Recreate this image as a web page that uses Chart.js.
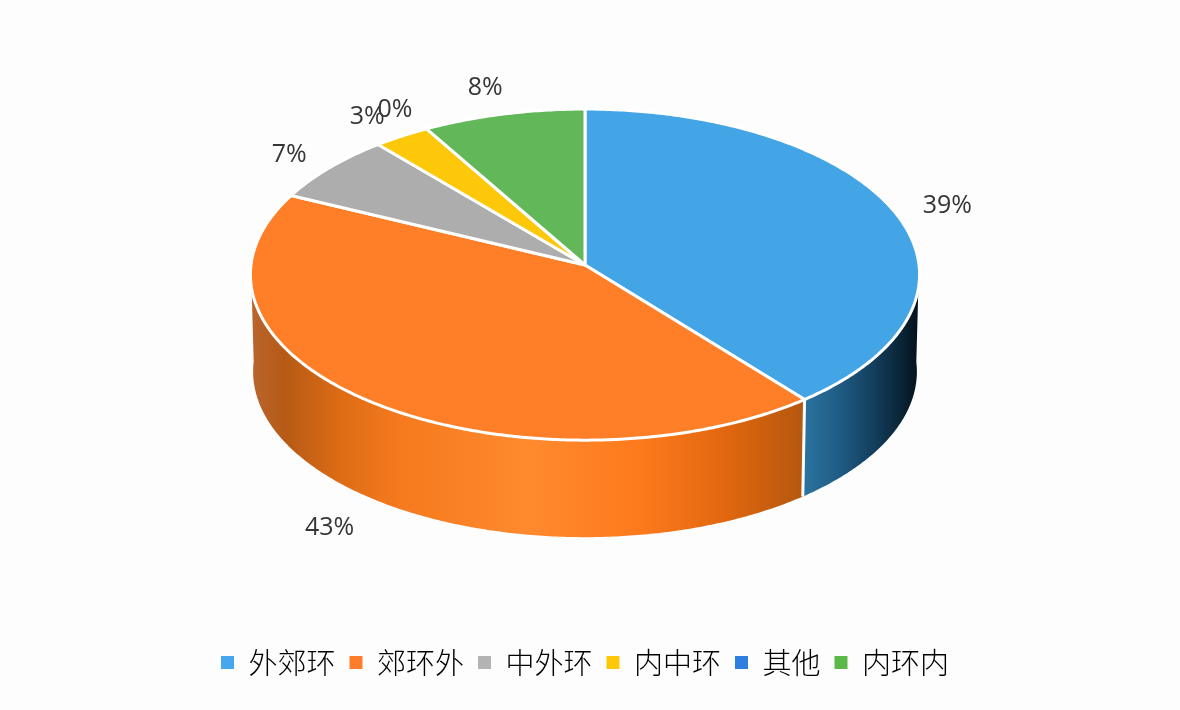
<!DOCTYPE html>
<html>
<head>
<meta charset="utf-8">
<title>3D pie</title>
<script src="https://cdn.jsdelivr.net/npm/chart.js@4"></script>
<style>
  html, body { margin: 0; padding: 0; background: #fdfdfe; }
  #wrap { width: 1180px; height: 710px; }
</style>
</head>
<body>
<div id="wrap"><canvas id="pie3d" width="1180" height="710"></canvas></div>
<script>
"use strict"

const categories = ["外郊环", "郊环外", "中外环", "内中环", "其他", "内环内"];
const shares = [39.2, 42.9, 6.7, 2.9, 0, 8.3];
const sliceColors = ["#44a5e6", "#fe7f28", "#aeadae", "#fec80a", "#2f7fe0", "#62b858"];
const legendColors = ["#46a6ee", "#fe7d2d", "#b4b3b4", "#fec80a", "#2f7fe0", "#5cb848"];

// ------------------ tilt of the pie -------------------------
const HUB_X = 585;
const HUB_Y = 265;
const RX = 334;
const RY = 165;
const PERSPECTIVE = -0.058;
const DEPTH = 97;
const BOTTOM_SCALE = 0.992;

// side wall shading, left to right in page pixels
const wallShades = [
  { from: 805, to: 918, stops: [[0, "#2a739f"], [0.3, "#1f5c84"], [0.6, "#143f5e"], [0.85, "#0a2437"], [1, "#04121d"]] },
  { from: 252, to: 805, stops: [[0, "#b9652e"], [0.06, "#b65a16"], [0.16, "#dd6c14"], [0.27, "#f67a1e"], [0.5, "#ff8a2e"], [0.7, "#fd7a1c"], [0.86, "#e0670f"], [1, "#b4570f"]] },
];

// label nudges around the default outside-end spot
const labelNudge = [[-3, 1], [-15, 24], [11, 0], [5, -1], [3, 1], [0, -3]];

function project(angle) {
  const d = 1 + PERSPECTIVE * Math.sin(angle);
  return {
    x: HUB_X + RX * Math.cos(angle) / d,
    y: HUB_Y + RY * Math.sin(angle) / d,
  };
}

function projectBottom(angle) {
  const p = project(angle);
  return {
    x: HUB_X + (p.x - HUB_X) * BOTTOM_SCALE,
    y: p.y + DEPTH,
  };
}

function angleSteps(start, end) {
  const steps = Math.max(2, Math.ceil((end - start) / 0.01));
  const list = [];
  for (let i = 0; i <= steps; i++) {
    list.push(start + (end - start) * i / steps);
  }
  return list;
}

function drawWalls(ctx, arcs) {
  arcs.forEach((arc, i) => {
    const shade = wallShades[i];
    if (!shade) return;
    const start = Math.max(arc.startAngle, 0);
    const end = Math.min(arc.endAngle, Math.PI);
    if (end <= start) return;
    const angles = angleSteps(start, end);
    ctx.beginPath();
    angles.forEach((a, k) => {
      const p = project(a);
      if (k === 0) ctx.moveTo(p.x, p.y);
      else ctx.lineTo(p.x, p.y);
    });
    angles.slice().reverse().forEach((a) => {
      const p = projectBottom(a);
      ctx.lineTo(p.x, p.y);
    });
    ctx.closePath();
    const grad = ctx.createLinearGradient(shade.from, 0, shade.to, 0);
    shade.stops.forEach((s) => grad.addColorStop(s[0], s[1]));
    ctx.fillStyle = grad;
    ctx.fill();
  });

  // white seam between the two front slices
  arcs.forEach((arc) => {
    if (arc.startAngle > 0 && arc.startAngle < Math.PI) {
      const top = project(arc.startAngle);
      const bottom = projectBottom(arc.startAngle);
      ctx.beginPath();
      ctx.moveTo(top.x, top.y);
      ctx.lineTo(bottom.x, bottom.y);
      ctx.strokeStyle = "#ffffff";
      ctx.lineWidth = 3;
      ctx.stroke();
    }
  });
}

function drawTop(ctx, arcs) {
  arcs.forEach((arc) => {
    if (arc.endAngle <= arc.startAngle) return;
    ctx.beginPath();
    ctx.moveTo(HUB_X, HUB_Y);
    angleSteps(arc.startAngle, arc.endAngle).forEach((a) => {
      const p = project(a);
      ctx.lineTo(p.x, p.y);
    });
    ctx.closePath();
    ctx.fillStyle = arc.options.backgroundColor;
    ctx.fill();
    ctx.strokeStyle = "#ffffff";
    ctx.lineWidth = 3;
    ctx.lineJoin = "round";
    ctx.stroke();
  });
}

function drawLabels(ctx, arcs) {
  ctx.font = "25px 'Open Sans', 'Noto Sans', sans-serif";
  ctx.fillStyle = "#363636";
  ctx.textAlign = "center";
  ctx.textBaseline = "middle";
  arcs.forEach((arc, i) => {
    const mid = (arc.startAngle + arc.endAngle) / 2;
    const sinMid = Math.sin(mid);
    const x = HUB_X + 334 * 1.16 * Math.cos(mid) + labelNudge[i][0];
    const y = HUB_Y + 164 * 1.1 * sinMid + (sinMid > 0 ? DEPTH : 0) + labelNudge[i][1];
    ctx.fillText(Math.round(shares[i]) + "%", x, y);
  });
}

const pie3dPlugin = {
  id: "pie3d",
  beforeDatasetsDraw(chart) {
    const ctx = chart.ctx;
    const arcs = chart.getDatasetMeta(0).data;
    ctx.save();
    drawWalls(ctx, arcs);
    drawTop(ctx, arcs);
    drawLabels(ctx, arcs);
    ctx.restore();
    return false;
  },
};

new Chart(document.querySelector("#pie3d"), {
  type: "pie",
  data: {
    labels: categories,
    datasets: [
      {
        data: shares,
        backgroundColor: sliceColors,
        borderWidth: 0,
      },
    ],
  },
  options: {
    responsive: false,
    animation: false,
    events: [],
    layout: {
      padding: { left: 0, right: 10, top: 0, bottom: 23 },
    },
    plugins: {
      tooltip: { enabled: false },
      legend: {
        position: "bottom",
        labels: {
          usePointStyle: true,
          pointStyle: "rect",
          boxWidth: 13,
          boxHeight: 13,
          padding: 14,
          color: "#3a3a3a",
          font: { family: "'Noto Sans CJK SC'", size: 29, weight: "300" },
          generateLabels(chart) {
            return categories.map((name, i) => ({
              text: name,
              fillStyle: legendColors[i],
              strokeStyle: legendColors[i],
              lineWidth: 0,
              pointStyle: "rect",
              index: i,
            }));
          },
        },
      },
    },
  },
  plugins: [pie3dPlugin],
});
</script>
</body>
</html>
